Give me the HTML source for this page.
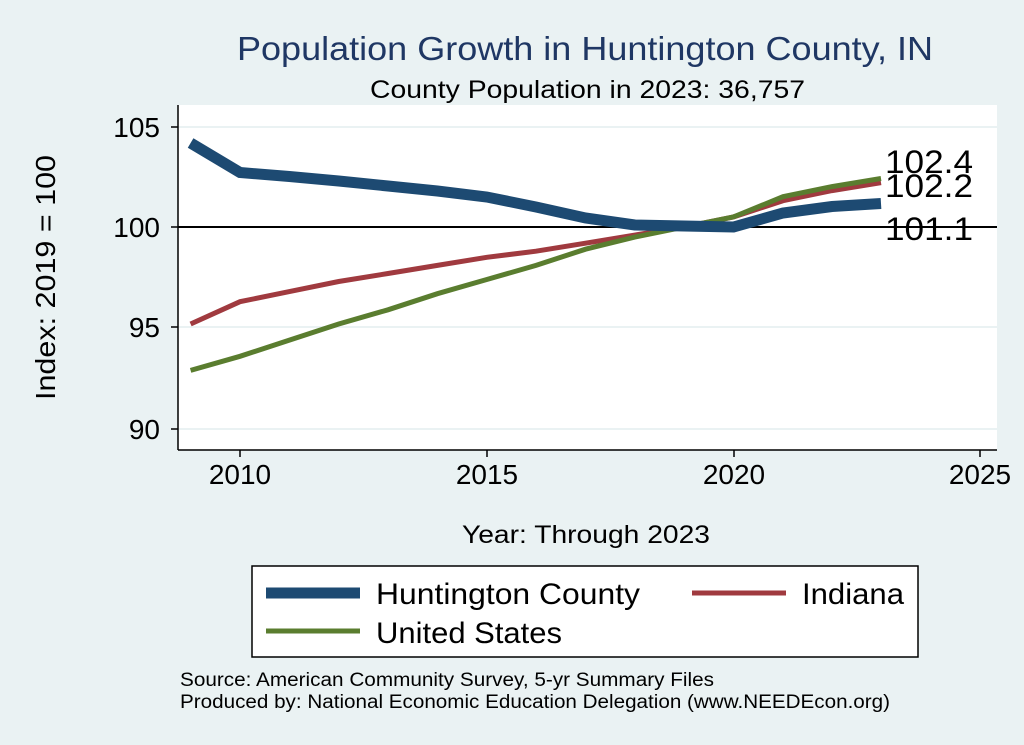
<!DOCTYPE html>
<html><head><meta charset="utf-8"><style>
body{margin:0;background:#eaf2f3;}
svg{display:block;font-family:"Liberation Sans",sans-serif;}
</style></head><body>
<svg width="1024" height="745" viewBox="0 0 1024 745">
<rect width="1024" height="745" fill="#eaf2f3"/>
<text x="237" y="60" textLength="696" lengthAdjust="spacingAndGlyphs" font-size="33" fill="#1f3764">Population Growth in Huntington County, IN</text>
<text x="370" y="98" textLength="435" lengthAdjust="spacingAndGlyphs" font-size="25" fill="#000">County Population in 2023: 36,757</text>
<rect x="178" y="105" width="819" height="345" fill="#fff"/>
<g stroke="#eaf2f3" stroke-width="2">
<line x1="178" y1="127" x2="997" y2="127"/><line x1="178" y1="327" x2="997" y2="327"/><line x1="178" y1="429" x2="997" y2="429"/>
</g>
<line x1="178" y1="227" x2="997" y2="227" stroke="#000" stroke-width="2"/>
<g stroke="#000" stroke-width="1.5">
<line x1="178" y1="105" x2="178" y2="450"/><line x1="178" y1="450" x2="997" y2="450"/>
<line x1="171" y1="127" x2="178" y2="127"/><line x1="171" y1="227" x2="178" y2="227"/><line x1="171" y1="327" x2="178" y2="327"/><line x1="171" y1="429" x2="178" y2="429"/>
<line x1="240" y1="450" x2="240" y2="457"/><line x1="487" y1="450" x2="487" y2="457"/><line x1="734" y1="450" x2="734" y2="457"/><line x1="980" y1="450" x2="980" y2="457"/>
</g>
<g font-size="28" text-anchor="end"><text x="160" y="137">105</text><text x="160" y="237">100</text><text x="160" y="337">95</text><text x="160" y="439">90</text></g>
<g font-size="28" text-anchor="middle"><text x="240" y="484">2010</text><text x="487" y="484">2015</text><text x="734" y="484">2020</text><text x="980" y="484">2025</text></g>
<text transform="translate(55,400) rotate(-90)" textLength="245" lengthAdjust="spacingAndGlyphs" font-size="28">Index: 2019 = 100</text>
<text x="462" y="543" textLength="248" lengthAdjust="spacingAndGlyphs" font-size="25">Year: Through 2023</text>
<polyline fill="none" stroke="#a03a3f" stroke-width="5" points="190.6,324 240,301.7 289.4,291.6 338.7,281.5 388,273.5 437.4,265.4 486.8,257.3 536,251.2 585.5,243.2 634.8,235.1 684,227 733.5,216.9 783,200.7 832,190.6 881,182.6"/>
<polyline fill="none" stroke="#5a7d2f" stroke-width="5" points="190.6,370.4 240,356.3 289.4,340.1 338.7,324 388,309.8 437.4,293.7 486.8,279.5 536,265.4 585.5,249.2 634.8,237.1 684,227 733.5,216.9 783,196.7 832,186.6 881,178.5"/>
<polyline fill="none" stroke="#1d4a72" stroke-width="11" points="190.6,143 240,172.5 289.4,176.5 338.7,181 388,186 437.4,191 486.8,197 536,207 585.5,218 634.8,225 684,226 733.5,227 783,213 832,206.5 881,203.5"/>
<g font-size="32"><text x="885" y="173" textLength="88" lengthAdjust="spacingAndGlyphs">102.4</text><text x="885" y="197" textLength="88" lengthAdjust="spacingAndGlyphs">102.2</text><text x="885" y="240" textLength="88" lengthAdjust="spacingAndGlyphs">101.1</text></g>
<rect x="252" y="566" width="666" height="91" fill="#fff" stroke="#000" stroke-width="1.5"/>
<line x1="266" y1="593" x2="360" y2="593" stroke="#1d4a72" stroke-width="11"/>
<text x="376" y="604" textLength="264" lengthAdjust="spacingAndGlyphs" font-size="30">Huntington  County</text>
<line x1="692" y1="593" x2="786" y2="593" stroke="#a03a3f" stroke-width="5"/>
<text x="802" y="604" textLength="102" lengthAdjust="spacingAndGlyphs" font-size="30">Indiana</text>
<line x1="266" y1="631" x2="360" y2="631" stroke="#5a7d2f" stroke-width="5"/>
<text x="376" y="643" textLength="186" lengthAdjust="spacingAndGlyphs" font-size="30">United States</text>
<text x="180" y="686" textLength="534" lengthAdjust="spacingAndGlyphs" font-size="19">Source: American Community Survey, 5-yr Summary Files</text>
<text x="180" y="708" textLength="710" lengthAdjust="spacingAndGlyphs" font-size="19">Produced by: National Economic Education Delegation (www.NEEDEcon.org)</text>
</svg>
</body></html>
